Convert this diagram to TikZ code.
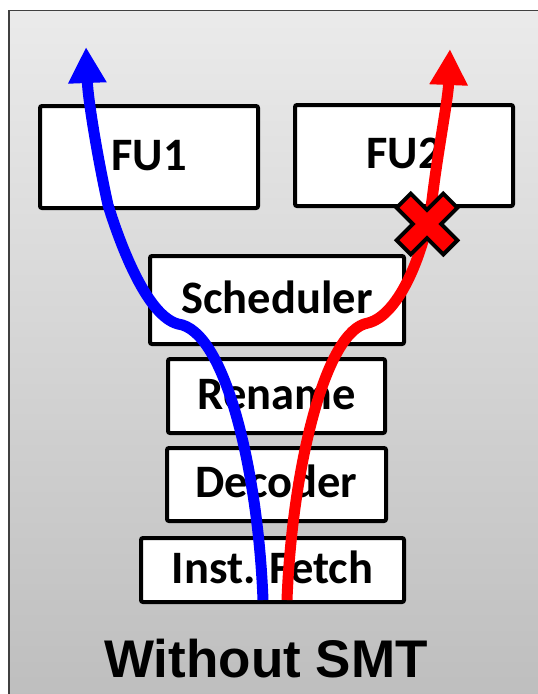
\documentclass[tikz,border=0pt]{standalone}
\usepackage{fontspec}
\newfontfamily\labelfont{Carlito}
\newfontfamily\titlefont{Liberation Sans}
\usetikzlibrary{arrows.meta}
\begin{document}
\begin{tikzpicture}[x=1pt,y=-1pt,
  stage/.style={draw=black, line width=4pt, fill=white, rounded corners=2pt,
    inner sep=0pt, font=\labelfont\bfseries\fontsize{46.5}{46.5}\selectfont,
    text height=30pt, text depth=4pt},
  flow/.style={line width=11pt, -{Triangle[width=36pt,length=36pt]}},
  stopmark/.style={fill=red, draw=black, line width=4pt, line join=miter}]
\useasboundingbox (0,0) rectangle (538,694);
\clip (0,0) rectangle (538,694);
% panel background
\draw[draw=black!75, line width=1.5pt, top color=black!8, bottom color=black!26]
  (9,10.7) rectangle (560,720);

% pipeline stages
\node[stage, minimum width=218pt, minimum height=102pt] (fu1) at (149,157) {FU1};
\node[stage, minimum width=218pt, minimum height=101pt] (fu2) at (404,155.5) {FU2};
\node[stage, minimum width=254pt, minimum height=88pt] (sched) at (277,300) {Scheduler};
\node[stage, minimum width=217pt, minimum height=74pt] (rename) at (276.5,396) {Rename};
\node[stage, minimum width=219pt, minimum height=73pt] (dec) at (276.5,484.5) {Decoder};
\node[stage, minimum width=263pt, minimum height=64pt] (fetch) at (272.5,570) {Inst. Fetch};

% thread paths
\coordinate (b0) at (263,600);
\coordinate (bk) at (178,324);
\coordinate (bm) at (108,205);
\coordinate (btip) at (86,47);
\coordinate (r0) at (287,600);
\coordinate (rk) at (368,323);
\coordinate (rm) at (432,200);
\coordinate (rtip) at (450,49);

\draw[flow, blue] (b0) .. controls (258,470) and (225,330) .. (bk)
  .. controls (148,316) and (122,250) .. (bm)
  .. controls (98,160) and (88,100) .. (btip);
\draw[flow, red] (r0) .. controls (292,470) and (325,330) .. (rk)
  .. controls (400,315) and (425,250) .. (rm)
  .. controls (438,150) and (448,100) .. (rtip);

% blocked mark on the second path
\begin{scope}[shift={(427,224)}, rotate=45]
  \draw[stopmark] (-10,33) -- (10,33) -- (10,10) -- (33,10) -- (33,-10) -- (10,-10)
    -- (10,-33) -- (-10,-33) -- (-10,-10) -- (-33,-10) -- (-33,10) -- (-10,10) -- cycle;
\end{scope}

\node[font=\titlefont\bfseries\fontsize{53}{53}\selectfont, anchor=base, inner sep=0pt]
  (title) at (266,677) {Without SMT};
\end{tikzpicture}
\end{document}
